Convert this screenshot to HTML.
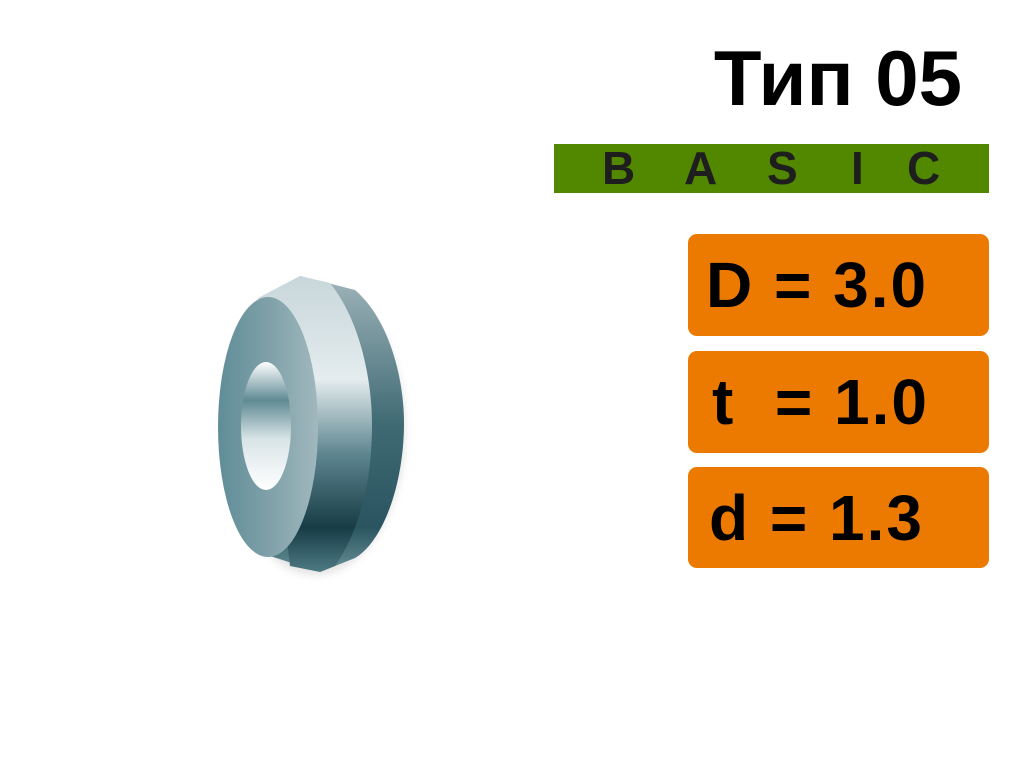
<!DOCTYPE html>
<html><head><meta charset="utf-8"><style>
html,body{margin:0;padding:0;background:#fff;}
body{width:1024px;height:768px;position:relative;overflow:hidden;font-family:"Liberation Sans",sans-serif;}
.title{position:absolute;left:690px;top:28px;width:272px;text-align:right;font-size:78px;font-weight:bold;color:#000;line-height:100px;}
.green{position:absolute;left:554px;top:144px;width:435px;height:49px;background:#528800;}
.green span{position:absolute;top:0;line-height:49px;font-size:46px;font-weight:bold;color:#1e1e1e;}
.box{position:absolute;left:688px;width:301px;background:#ec7a00;border-radius:9px;}
.box span{position:absolute;left:18px;font-size:64px;font-weight:bold;color:#000;line-height:102px;top:0;white-space:pre;letter-spacing:2px;}
</style></head><body>
<div class="title">Тип 05</div>
<div class="green"><span style="left:48px">B</span><span style="left:130px">A</span><span style="left:213px">S</span><span style="left:297px">I</span><span style="left:353px">C</span></div>
<div class="box" style="top:234px;height:102px"><span>D = 3.0</span></div>
<div class="box" style="top:351px;height:102px"><span style="left:24px">t  = 1.0</span></div>
<div class="box" style="top:467px;height:101px"><span style="left:21px">d = 1.3</span></div>
<svg width="1024" height="768" style="position:absolute;left:0;top:0">
<defs>
<linearGradient id="band" x1="0" y1="0" x2="0" y2="1">
<stop offset="0" stop-color="#c8d6da"/><stop offset="0.35" stop-color="#e4ecee"/><stop offset="0.6" stop-color="#5e8690"/><stop offset="0.85" stop-color="#173c46"/><stop offset="1" stop-color="#4e7a84"/>
</linearGradient>
<linearGradient id="bandr" x1="0" y1="0" x2="0" y2="1">
<stop offset="0" stop-color="#9fb4ba"/><stop offset="0.5" stop-color="#3f6a74"/><stop offset="0.85" stop-color="#2a5560"/><stop offset="1" stop-color="#6a9098"/>
</linearGradient>
<linearGradient id="face" x1="0" y1="0" x2="1" y2="0">
<stop offset="0" stop-color="#5f8d98"/><stop offset="0.5" stop-color="#7fa0a8"/><stop offset="1" stop-color="#a0b8be"/>
</linearGradient>
<linearGradient id="hole" x1="0" y1="0" x2="0" y2="1">
<stop offset="0" stop-color="#ffffff"/><stop offset="0.3" stop-color="#5f8a94"/><stop offset="0.6" stop-color="#d8e4e6"/><stop offset="1" stop-color="#ffffff"/>
</linearGradient>
<filter id="sh"><feGaussianBlur stdDeviation="4"/></filter>
</defs>
<ellipse cx="315" cy="430" rx="90" ry="145" fill="#bbb" opacity="0.4" filter="url(#sh)"/>
<path d="M300 276 L355 290 C390 320 404 380 404 423 C404 480 385 540 355 558 L320 572 L270 556 L270 296 Z" fill="url(#bandr)"/>
<path d="M258 298 L300 276 L330 283 C360 320 372 380 372 425 C372 480 360 530 335 566 L320 572 L290 566 Z" fill="url(#band)"/>
<ellipse cx="268" cy="427" rx="50" ry="130" fill="url(#face)"/>
<ellipse cx="266" cy="426" rx="25" ry="64" fill="url(#hole)"/>
</svg>
</body></html>
